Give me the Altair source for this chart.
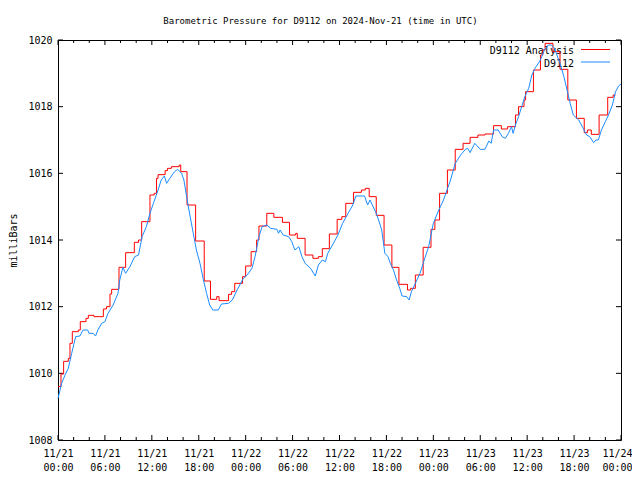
import altair as alt
import pandas as pd

# ---- data (hours since 2024-11-21 00:00 UTC, millibars) ----
analysis_hours = [0.0, 0.38, 0.72, 1.32, 1.53, 1.83, 2.6, 2.85, 3.58, 3.88,
                  4.6, 5.8, 6.2, 6.65, 6.86, 7.8, 8.65, 9.76, 10.3, 10.7,
                  11.76, 12.3, 12.6, 12.8, 13.7, 14.0, 14.5, 15.5, 15.7, 16.5,
                  17.6, 18.7, 19.5, 20.3, 20.6, 21.8, 22.2, 22.6, 23.6, 24.0,
                  24.7, 25.4, 25.7, 26.7, 27.6, 28.7, 29.6, 30.4, 30.6, 31.6,
                  32.6, 33.3, 33.8, 34.7, 35.7, 36.3, 36.8, 37.8, 38.8, 39.3,
                  39.8, 40.7, 41.7, 42.7, 43.6, 44.7, 45.1, 45.7, 46.7, 47.7,
                  48.2, 48.8, 49.8, 50.8, 51.8, 52.7, 53.7, 54.6, 55.7, 56.7,
                  57.5, 58.5, 58.9, 59.6, 59.8, 60.8, 61.7, 62.0, 62.3, 63.3,
                  64.2, 65.2, 66.3, 67.3, 67.7, 68.2, 69.2, 70.3, 71.0, 71.3]
analysis_mb = [1009.6, 1009.98, 1010.36, 1010.45, 1010.9, 1011.25, 1011.3, 1011.55, 1011.65, 1011.74,
               1011.7, 1011.93, 1012.0, 1012.38, 1012.52, 1013.18, 1013.62, 1013.93, 1014.0, 1014.55,
               1015.35, 1015.4, 1015.85, 1015.96, 1016.08, 1016.15, 1016.2, 1016.25, 1016.05, 1015.05,
               1013.97, 1012.77, 1012.22, 1012.3, 1012.18, 1012.37, 1012.45, 1012.7, 1012.9, 1013.22,
               1013.65, 1014.0, 1014.42, 1014.8, 1014.68, 1014.53, 1014.15, 1014.2, 1014.05, 1013.55,
               1013.45, 1013.5, 1013.74, 1014.18, 1014.62, 1014.7, 1015.1, 1015.43, 1015.5, 1015.55,
               1015.3, 1014.74, 1013.85, 1013.18, 1012.67, 1012.5, 1012.55, 1012.95, 1013.78, 1014.32,
               1014.6, 1015.4, 1016.1, 1016.72, 1016.9, 1017.08, 1017.15, 1017.18, 1017.43, 1017.33,
               1017.4, 1017.75, 1018.0, 1018.2, 1018.45, 1019.1, 1019.55, 1019.7, 1019.9, 1019.65,
               1019.12, 1018.2, 1017.65, 1017.22, 1017.3, 1017.17, 1017.75, 1018.28, 1018.35, 1018.35]

obs_hours = [0.0, 0.47, 0.9, 1.32, 1.75, 2.26, 2.8, 3.2, 3.8, 3.96,
             4.5, 4.8, 5.1, 5.58, 6.0, 6.4, 7.05, 7.67, 7.9, 8.3,
             8.65, 9.2, 9.8, 10.3, 10.75, 11.3, 11.76, 12.2, 12.8, 13.2,
             13.6, 13.9, 14.3, 14.9, 15.3, 15.8, 16.1, 16.45, 16.9, 17.3,
             17.7, 18.16, 18.6, 19.0, 19.4, 19.8, 20.5, 20.9, 21.8, 22.3,
             22.9, 23.7, 24.2, 24.8, 25.2, 25.7, 26.1, 26.7, 27.2, 28.0,
             28.2, 28.4, 28.8, 29.5, 29.9, 30.3, 30.8, 31.2, 31.6, 32.3,
             32.9, 33.3, 33.8, 34.2, 34.5, 35.1, 35.8, 36.4, 37.1, 37.7,
             38.1, 39.2, 39.6, 39.9, 40.2, 40.7, 41.0, 41.4, 41.8, 42.2,
             42.5, 42.9, 43.3, 43.7, 44.0, 44.6, 44.9, 45.2, 45.7, 46.3,
             46.7, 47.4, 48.0, 48.7, 49.3, 50.2, 50.8, 51.5, 52.1, 52.4,
             52.7, 53.3, 54.0, 54.6, 55.1, 55.4, 55.7, 56.3, 56.8, 57.2,
             57.6, 58.0, 58.2, 58.5, 58.9, 59.3, 59.7, 60.2, 60.6, 61.0,
             61.7, 62.2, 62.7, 63.1, 63.5, 63.8, 64.2, 64.7, 65.1, 65.5,
             65.9, 66.6, 67.1, 67.6, 68.0, 68.5, 68.8, 69.1, 69.5, 70.0,
             70.4, 70.9, 71.3, 71.7, 72.0]
obs_mb = [1009.25, 1009.7, 1009.95, 1010.15, 1010.6, 1011.1, 1011.12, 1011.3, 1011.3, 1011.2,
          1011.2, 1011.12, 1011.3, 1011.5, 1011.55, 1011.8, 1012.05, 1012.4, 1012.8, 1013.18,
          1013.0, 1013.2, 1013.5, 1013.55, 1014.1, 1014.4, 1014.8, 1015.1, 1015.5, 1015.8,
          1015.92, 1015.7, 1015.85, 1016.05, 1016.12, 1016.0, 1015.8, 1015.3, 1014.7, 1014.2,
          1013.7, 1013.3, 1012.8, 1012.4, 1012.05, 1011.9, 1011.9, 1012.08, 1012.1, 1012.2,
          1012.5, 1012.85, 1012.95, 1013.15, 1013.5, 1014.1, 1014.4, 1014.45, 1014.35, 1014.32,
          1014.2, 1014.3, 1014.15, 1014.1, 1013.95, 1013.7, 1013.8, 1013.5, 1013.3, 1013.15,
          1012.92, 1013.25, 1013.4, 1013.35, 1013.6, 1013.85, 1014.15, 1014.5, 1014.8, 1015.05,
          1015.32, 1015.32, 1015.05, 1015.2, 1015.05, 1014.8, 1014.6, 1014.3, 1013.6, 1013.5,
          1013.3, 1013.1, 1012.8, 1012.55, 1012.32, 1012.3, 1012.2, 1012.45, 1012.7, 1013.0,
          1013.3, 1013.8, 1014.5, 1014.9, 1015.2, 1015.8, 1016.3, 1016.55, 1016.72, 1016.75,
          1016.62, 1016.9, 1016.72, 1016.72, 1016.97, 1016.9, 1017.3, 1017.3, 1017.1, 1017.05,
          1017.2, 1017.4, 1017.2, 1017.45, 1017.7, 1018.0, 1018.3, 1018.55, 1018.95, 1019.15,
          1019.4, 1019.7, 1019.85, 1019.85, 1019.75, 1019.55, 1019.3, 1018.9, 1018.5, 1018.1,
          1017.75, 1017.6, 1017.38, 1017.15, 1017.1, 1016.92, 1017.0, 1017.0, 1017.3, 1017.55,
          1017.75, 1018.05, 1018.45, 1018.62, 1018.68]

y_ticks = [1008, 1010, 1012, 1014, 1016, 1018, 1020]
x_major = [0, 6, 12, 18, 24, 30, 36, 42, 48, 54, 60, 66, 72]
x_minor = [2, 4, 8, 10, 14, 16, 20, 22, 26, 28, 32, 34, 38, 40, 44, 46, 50, 52, 56, 58, 62, 64, 68, 70]
series_names = ["D9112 Analysis", "D9112"]
series_colors = ["#ff0000", "#1a8cff"]
title_text = "Barometric Pressure for D9112 on 2024-Nov-21 (time in UTC)"

W, H = 563, 400
FONT = "DejaVu Sans Mono"

df_a = pd.DataFrame({"hour": analysis_hours, "mb": analysis_mb})
df_o = pd.DataFrame({"hour": obs_hours, "mb": obs_mb})
df_xmaj = pd.DataFrame({"hour": x_major})
df_xmin = pd.DataFrame({"hour": x_minor})
df_y = pd.DataFrame({"mb": y_ticks})

xs = alt.Scale(domain=[0, 72], nice=False, zero=False)
ys = alt.Scale(domain=[1008, 1020], nice=False, zero=False)

label_expr = ("[utcFormat(utc(2024,10,21) + datum.value*3600000, '%m/%d'), "
              "utcFormat(utc(2024,10,21) + datum.value*3600000, '%H:%M')]")
xaxis = alt.Axis(values=x_major, labelExpr=label_expr, ticks=False, tickSize=0,
                 domain=False, grid=False, title=None, labelFont=FONT,
                 labelFontSize=10, labelColor="black", labelPadding=8,
                 labelLineHeight=14, labelFlush=False, labelOverlap=False,
                 labelOffset={"condition": {"test": "datum.value == 72", "value": -4}, "value": 0})
yaxis = alt.Axis(values=y_ticks, format="d", ticks=False, tickSize=0, domain=False,
                 grid=False, title="milliBars", titleFont=FONT, titleFontSize=10,
                 titleFontWeight="normal", titleColor="black", titlePadding=9,
                 labelFont=FONT, labelFontSize=10, labelColor="black",
                 labelPadding=6, labelFlush=False, labelOverlap=False)

X = alt.X("hour:Q", scale=xs, axis=xaxis)
Y = alt.Y("mb:Q", scale=ys, axis=yaxis)

# legend (gnuplot style: label left, sample right)
leg_red_txt = alt.Chart(pd.DataFrame({"t": [series_names[0]]})).mark_text(
    font=FONT, fontSize=10, align="right", baseline="alphabetic", color="black"
).encode(text="t:N", x=alt.value(516), y=alt.value(14))
leg_blue_txt = alt.Chart(pd.DataFrame({"t": [series_names[1]]})).mark_text(
    font=FONT, fontSize=10, align="right", baseline="alphabetic", color="black"
).encode(text="t:N", x=alt.value(516), y=alt.value(26.5))
leg_red_line = alt.Chart(pd.DataFrame({"t": [series_names[0]]})).mark_rule(
    color=series_colors[0], strokeWidth=1
).encode(x=alt.value(523), x2=alt.value(552), y=alt.value(9.5))
leg_blue_line = alt.Chart(pd.DataFrame({"t": [series_names[1]]})).mark_rule(
    color=series_colors[1], strokeWidth=1
).encode(x=alt.value(523), x2=alt.value(552), y=alt.value(22))

red = alt.Chart(df_a).mark_line(color=series_colors[0], strokeWidth=1,
                                interpolate="step-after").encode(x=X, y=Y)
blue = alt.Chart(df_o).mark_line(color=series_colors[1], strokeWidth=1).encode(x=X, y=Y)

# inward ticks on all four sides
tick_color = "black"
xb_maj = alt.Chart(df_xmaj).mark_rule(color=tick_color).encode(x=X, y=alt.value(H), y2=alt.value(H - 5))
xb_min = alt.Chart(df_xmin).mark_rule(color=tick_color).encode(x=X, y=alt.value(H), y2=alt.value(H - 3))
xt_maj = alt.Chart(df_xmaj).mark_rule(color=tick_color).encode(x=X, y=alt.value(0), y2=alt.value(5))
xt_min = alt.Chart(df_xmin).mark_rule(color=tick_color).encode(x=X, y=alt.value(0), y2=alt.value(3))
yl = alt.Chart(df_y).mark_rule(color=tick_color).encode(y=Y, x=alt.value(0), x2=alt.value(5))
yr = alt.Chart(df_y).mark_rule(color=tick_color).encode(y=Y, x=alt.value(W), x2=alt.value(W - 5))

chart = alt.layer(
    xb_maj, xb_min, xt_maj, xt_min, yl, yr,
    leg_red_txt, leg_blue_txt, leg_red_line, leg_blue_line,
    red, blue
).properties(
    width=W, height=H,
    title=alt.TitleParams(title_text, font=FONT, fontSize=9, fontWeight="normal",
                          color="black", anchor="middle", dx=-19, offset=9),
    autosize=alt.AutoSizeParams(type="none"),
    padding={"left": 50, "top": 32, "right": 11, "bottom": 32},
    background="white",
).configure_view(stroke="black", strokeWidth=1)

chart.save("out.html", embed_options={"renderer": "svg", "actions": False})
